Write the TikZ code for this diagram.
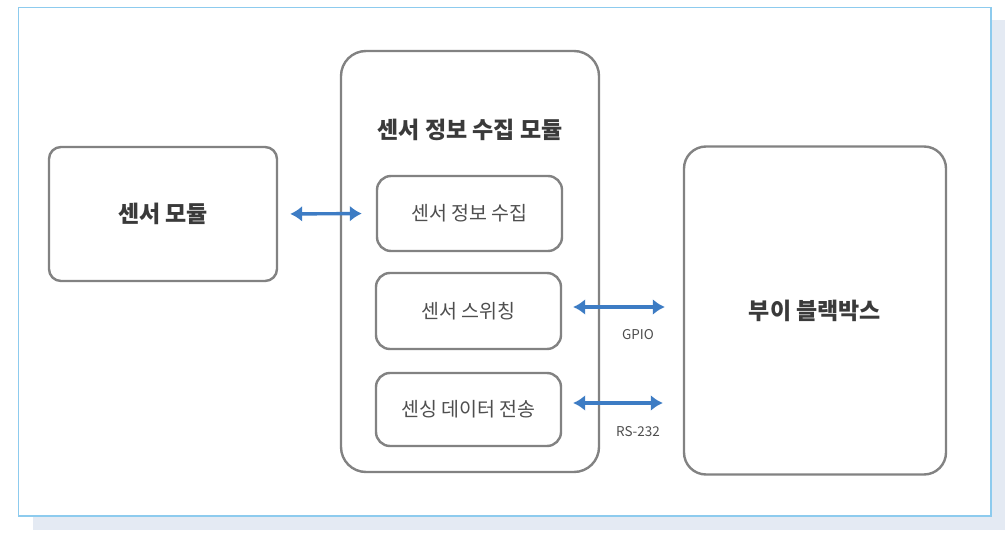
\documentclass[tikz,border=0pt]{standalone}
\usepackage{fontspec}
\setmainfont{Noto Sans CJK KR}
\newfontfamily\kr{Noto Sans CJK KR}
\usetikzlibrary{arrows.meta}
\definecolor{boxgray}{HTML}{828282}
\definecolor{txtdark}{HTML}{3A3A3A}
\definecolor{txtmid}{HTML}{4E4E4E}
\definecolor{arrblue}{HTML}{3D7CC4}
\definecolor{framecol}{HTML}{8DCBEE}
\definecolor{shadowcol}{HTML}{E4EAF3}
\tikzset{
  box/.style={draw=boxgray, line width=2.4pt, fill=white, inner sep=0pt},
  bigtxt/.style={font=\kr\bfseries\fontsize{23}{27}\selectfont, text=txtdark},
  smalltxt/.style={font=\kr\fontsize{19.5}{23}\selectfont, text=txtmid},
  lbl/.style={font=\kr\fontsize{13.5}{16}\selectfont, text=txtmid},
  arr/.style={draw=arrblue, line width=3.4pt, {Latex[length=12pt,width=16pt]}-{Latex[length=12pt,width=16pt]}}
}
\begin{document}
\begin{tikzpicture}[x=1pt,y=-1pt]
\useasboundingbox (0,0) rectangle (1008,534);
% frame and shadow
\fill[shadowcol] (33,20) rectangle (1005,530);
\draw[framecol, line width=1.6pt, fill=white] (18.5,7.5) rectangle (991,516);
% boxes
\node[box, rounded corners=12pt, minimum width=228pt, minimum height=134pt, bigtxt] (smod) at (163,214) {센서 모듈};
\node[box, rounded corners=25pt, minimum width=258pt, minimum height=421pt] (mod) at (470,261.5) {};
\node[bigtxt] (title) at (470,130) {센서 정보 수집 모듈};
\node[box, rounded corners=14pt, minimum width=185pt, minimum height=75pt, smalltxt] (in1) at (469.5,213.5) {센서 정보 수집};
\node[box, rounded corners=14pt, minimum width=185pt, minimum height=76pt, smalltxt] (in2) at (468.5,311) {센서 스위칭};
\node[box, rounded corners=14pt, minimum width=185pt, minimum height=73pt, smalltxt] (in3) at (468.5,409.5) {센싱 데이터 전송};
\node[box, rounded corners=22pt, minimum width=262pt, minimum height=328pt, bigtxt] (bb) at (815,310.5) {부이 블랙박스};
% connectors
\coordinate (g1) at ([yshift=4pt]in2.east);
\coordinate (r1) at ([yshift=6.5pt]in3.east);
\draw[arr, shorten <=12pt, shorten >=14pt] (smod.east) -- (in1.west);
\draw[arr, shorten <=11pt, shorten >=18pt] (g1) -- (g1 -| bb.west);
\draw[arr, shorten <=11pt, shorten >=20pt] (r1) -- (r1 -| bb.west);
\node[lbl] (gpio) at (638,335) {GPIO};
\node[lbl] (rs) at (638,432) {RS-232};
\end{tikzpicture}
\end{document}
